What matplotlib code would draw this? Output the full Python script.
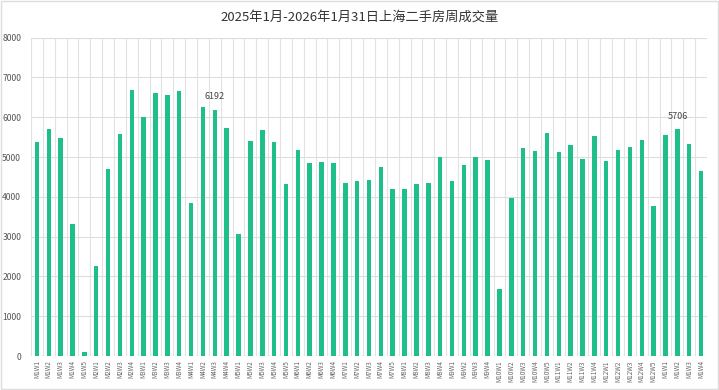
import matplotlib
matplotlib.use("Agg")
import matplotlib.pyplot as plt
from matplotlib.patches import Rectangle

plt.rcParams['font.family'] = ['Noto Sans CJK SC', 'DejaVu Sans']

title = "2025年1月-2026年1月31日上海二手房周成交量"

weeks_per_month = [("M1", 5), ("M2", 4), ("M3", 4), ("M4", 4), ("M5", 5), ("M6", 4),
                   ("M7", 5), ("M8", 4), ("M9", 4), ("M10", 5), ("M11", 4), ("M12", 5),
                   ("M1", 4)]
labels = [f"{m}W{w}" for m, n in weeks_per_month for w in range(1, n + 1)]

values = [5370, 5700, 5470, 3330, 100, 2260, 4700, 5570, 6680, 6000,
          6620, 6560, 6660, 3840, 6270, 6192, 5730, 3060, 5410, 5670,
          5390, 4330, 5180, 4840, 4870, 4840, 4360, 4390, 4420, 4760,
          4190, 4190, 4320, 4340, 4990, 4400, 4790, 5000, 4920, 1680,
          3960, 5240, 5160, 5600, 5130, 5310, 4940, 5540, 4890, 5180,
          5260, 5430, 3780, 5550, 5706, 5340, 4640]

annotated = {15: "6192", 54: "5706"}

fig = plt.figure(figsize=(7.19, 3.90), dpi=100)
ax = fig.add_axes([31 / 719, 1 - 356 / 390, (707 - 31) / 719, (356 - 37.7) / 390])

x = list(range(len(values)))
ax.bar(x, values, width=0.38, color="#1fbf8c", zorder=3)

ax.set_xlim(-0.5, len(values) - 0.5)
ax.set_ylim(0, 8000)
ax.set_yticks(range(0, 8001, 1000))
ax.set_xticks(x)
ax.set_xticklabels(labels, rotation=90, fontsize=4.6, color="#666666")
ax.tick_params(axis='y', labelsize=6.2, colors="#555555", length=0, pad=7)
ax.tick_params(axis='x', length=0, pad=3)

# grid: horizontal at every 1000, vertical at category boundaries
ax.yaxis.grid(True, color="#dddddd", linewidth=0.8, zorder=0)
ax.set_xticks([i - 0.5 for i in range(len(values) + 1)], minor=True)
ax.xaxis.grid(True, which='minor', color="#e2e2e2", linewidth=0.8, zorder=0)
ax.tick_params(axis='x', which='minor', length=0)
for s in ax.spines.values():
    s.set_visible(False)
ax.axhline(0, color="#cccccc", linewidth=0.8, zorder=2)

for i, t in annotated.items():
    ax.annotate(t, (i, values[i]), xytext=(0, 6), textcoords="offset points",
                ha="center", va="bottom", fontsize=6.5, color="#444444")

fig.text(360 / 719, 1 - 17 / 390, title, ha="center", va="center",
         fontsize=9.5, color="#333333")

fig.patches.append(Rectangle((0.001, 0.002), 0.997, 0.996, transform=fig.transFigure,
                             fill=False, edgecolor="#dddddd", linewidth=1))

fig.savefig("out.png", dpi=100, facecolor="white")
